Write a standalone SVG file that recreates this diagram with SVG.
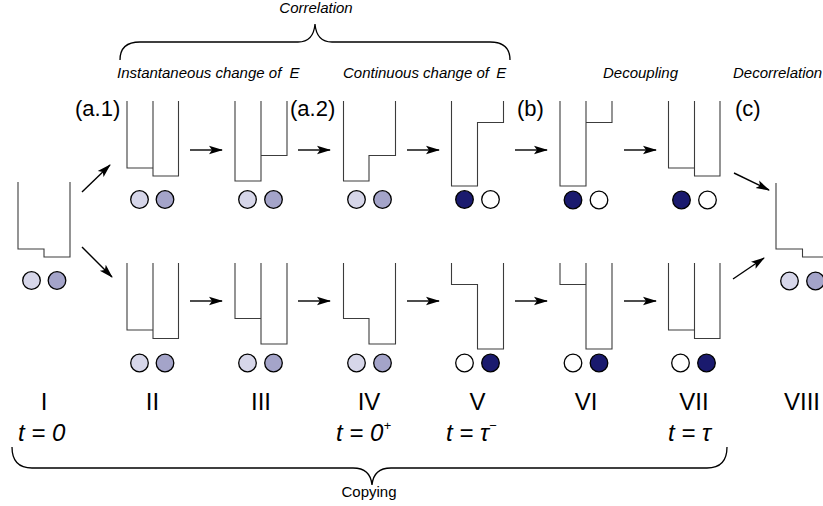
<svg xmlns="http://www.w3.org/2000/svg" width="823" height="506" viewBox="0 0 823 506">
  <style>
    .well { fill: none; stroke: #3c3c3c; stroke-width: 1.1; }
    .brace { fill: none; stroke: #000; stroke-width: 1.3; }
    .arrow { fill: none; stroke: #000; stroke-width: 1.4; marker-end: url(#head); }
    .dot { stroke: #000; stroke-width: 1.3; }
    .c1 { fill: #d6d6e9; }
    .c2 { fill: #a4a4c9; }
    .cd { fill: #1a1a6e; }
    .cw { fill: #ffffff; }
    .phase { font-family: "Liberation Sans", Arial, sans-serif; font-style: italic; font-size: 15px; fill: #000; }
    .tag { font-family: "Liberation Sans", Arial, sans-serif; font-size: 22px; fill: #000; }
    .num { font-family: "Liberation Sans", Arial, sans-serif; font-size: 24px; fill: #000; text-anchor: middle; }
    .time { font-family: "Liberation Sans", Arial, sans-serif; font-style: italic; font-size: 24px; fill: #000; }
    .sup { font-size: 13px; }
    .copy { font-family: "Liberation Sans", Arial, sans-serif; font-size: 15px; fill: #000; text-anchor: middle; }
  </style>
  <defs>
    <marker id="head" viewBox="0 0 14 10" refX="13" refY="5" markerUnits="userSpaceOnUse" markerWidth="14" markerHeight="10" orient="auto">
      <path d="M0,0.8 L14,5 L0,9.2 L3,5 Z" fill="#000"/>
    </marker>
  </defs>

  <rect width="823" height="506" fill="#fff"/>

  <!-- braces and phase labels -->
  <g id="correlation-brace">
    <path class="brace" d="M120,60 C120,49 126,42 140,42 L298,42 C309,42 314,36 315,24 C316,36 321,42 332,42 L490,42 C504,42 510,49 510,60"/>
    <text class="phase" x="316" y="13" text-anchor="middle">Correlation</text>
  </g>
  <g id="phase-labels">
    <text class="phase" x="117" y="78">Instantaneous change of <tspan dx="4">E</tspan></text>
    <text class="phase" x="343" y="78">Continuous change of <tspan dx="3">E</tspan></text>
    <text class="phase" x="603" y="78">Decoupling</text>
    <text class="phase" x="733" y="78">Decorrelation</text>
  </g>
  <g id="step-tags">
    <text class="tag" x="75" y="116">(a.1)</text>
    <text class="tag" x="290" y="116">(a.2)</text>
    <text class="tag" x="517" y="116">(b)</text>
    <text class="tag" x="735" y="116">(c)</text>
  </g>

  <!-- state I -->
  <g id="state-I">
    <path class="well" d="M18,182 V249 H44 V257 H70 V182"/>
    <circle class="dot c1" cx="31.5" cy="280.5" r="8.8"/>
    <circle class="dot c2" cx="57" cy="280.5" r="8.8"/>
  </g>

  <!-- state II -->
  <g id="state-II-top">
    <path class="well" d="M127,101 V168 H153 M153,101 V176 H178.5 V101"/>
    <circle class="dot c1" cx="139.5" cy="199.5" r="8.8"/>
    <circle class="dot c2" cx="165" cy="199.5" r="8.8"/>
  </g>
  <g id="state-II-bottom">
    <path class="well" d="M127,263 V330 H153 M153,263 V338.5 H178.5 V263"/>
    <circle class="dot c1" cx="139.5" cy="363" r="8.8"/>
    <circle class="dot c2" cx="165" cy="363" r="8.8"/>
  </g>

  <!-- state III -->
  <g id="state-III-top">
    <path class="well" d="M235,101 V181 H261 V101 M261,155.5 H287 V101"/>
    <circle class="dot c1" cx="247.5" cy="199.5" r="8.8"/>
    <circle class="dot c2" cx="273.5" cy="199.5" r="8.8"/>
  </g>
  <g id="state-III-bottom">
    <path class="well" d="M235,263 V318.5 H261 M261,263 V344 H287 V263"/>
    <circle class="dot c1" cx="247.5" cy="363" r="8.8"/>
    <circle class="dot c2" cx="273.5" cy="363" r="8.8"/>
  </g>

  <!-- state IV -->
  <g id="state-IV-top">
    <path class="well" d="M343.5,101 V181 H369 V155.5 H395.5 V101"/>
    <circle class="dot c1" cx="356.5" cy="199.5" r="8.8"/>
    <circle class="dot c2" cx="382.5" cy="199.5" r="8.8"/>
  </g>
  <g id="state-IV-bottom">
    <path class="well" d="M343.5,263 V318.5 H369 V344 H395.5 V263"/>
    <circle class="dot c1" cx="356.5" cy="363" r="8.8"/>
    <circle class="dot c2" cx="382.5" cy="363" r="8.8"/>
  </g>

  <!-- state V -->
  <g id="state-V-top">
    <path class="well" d="M451.5,101 V186 H477.5 V122.5 H503.5 V101"/>
    <circle class="dot cd" cx="464.5" cy="199.5" r="8.8"/>
    <circle class="dot cw" cx="490.5" cy="199.5" r="8.8"/>
  </g>
  <g id="state-V-bottom">
    <path class="well" d="M451.5,263 V284.5 H477.5 V349 H503.5 V263"/>
    <circle class="dot cw" cx="464.5" cy="363" r="8.8"/>
    <circle class="dot cd" cx="490.5" cy="363" r="8.8"/>
  </g>

  <!-- state VI -->
  <g id="state-VI-top">
    <path class="well" d="M560,101 V186 H586 V101 M586,122.5 H612 V101"/>
    <circle class="dot cd" cx="573" cy="200" r="8.8"/>
    <circle class="dot cw" cx="599" cy="200" r="8.8"/>
  </g>
  <g id="state-VI-bottom">
    <path class="well" d="M560,263 V284.5 H586 M586,263 V349 H612 V263"/>
    <circle class="dot cw" cx="573" cy="363" r="8.8"/>
    <circle class="dot cd" cx="599" cy="363" r="8.8"/>
  </g>

  <!-- state VII -->
  <g id="state-VII-top">
    <path class="well" d="M668.5,101 V168 H694.5 M694.5,101 V176 H720 V101"/>
    <circle class="dot cd" cx="681.5" cy="200" r="8.8"/>
    <circle class="dot cw" cx="707.5" cy="200" r="8.8"/>
  </g>
  <g id="state-VII-bottom">
    <path class="well" d="M668.5,263 V330 H694.5 M694.5,263 V338.5 H720 V263"/>
    <circle class="dot cw" cx="680.5" cy="363" r="8.8"/>
    <circle class="dot cd" cx="706.5" cy="363" r="8.8"/>
  </g>

  <!-- state VIII -->
  <g id="state-VIII">
    <path class="well" d="M776,183 V249 H802.5 V257 H828"/>
    <circle class="dot c1" cx="789.5" cy="281" r="8.8"/>
    <circle class="dot c2" cx="815.5" cy="281" r="8.8"/>
  </g>

  <!-- transitions -->
  <g id="connectors">
    <line class="arrow" x1="82" y1="192" x2="110" y2="165"/>
    <line class="arrow" x1="82" y1="247" x2="112" y2="277"/>
    <line class="arrow" x1="190" y1="150" x2="222" y2="150"/>
    <line class="arrow" x1="298" y1="150" x2="330" y2="150"/>
    <line class="arrow" x1="407" y1="150" x2="439" y2="150"/>
    <line class="arrow" x1="515" y1="150" x2="547" y2="150"/>
    <line class="arrow" x1="624" y1="150" x2="656" y2="150"/>
    <line class="arrow" x1="190" y1="301" x2="222" y2="301"/>
    <line class="arrow" x1="298" y1="301" x2="330" y2="301"/>
    <line class="arrow" x1="407" y1="301" x2="439" y2="301"/>
    <line class="arrow" x1="515" y1="301" x2="547" y2="301"/>
    <line class="arrow" x1="624" y1="301" x2="656" y2="301"/>
    <line class="arrow" x1="734" y1="173" x2="769" y2="190"/>
    <line class="arrow" x1="733" y1="279" x2="764" y2="258"/>
  </g>

  <!-- state numbers and times -->
  <g id="state-numbers">
    <text class="num" x="44" y="410">I</text>
    <text class="num" x="152.5" y="410">II</text>
    <text class="num" x="261" y="410">III</text>
    <text class="num" x="369" y="410">IV</text>
    <text class="num" x="477.5" y="410">V</text>
    <text class="num" x="586" y="410">VI</text>
    <text class="num" x="694" y="410">VII</text>
    <text class="num" x="802" y="410">VIII</text>
  </g>
  <g id="times">
    <text class="time" x="18" y="441">t = 0</text>
    <text class="time" x="336" y="441">t = 0<tspan class="sup" dy="-11">+</tspan></text>
    <text class="time" x="446" y="441">t = τ<tspan class="sup" dy="-11">−</tspan></text>
    <text class="time" x="668" y="441">t = τ</text>
  </g>

  <g id="copying-brace">
    <path class="brace" d="M12,447 C12,460 18,468 32,468 L353,468 C365,468 371,474 372,485 C373,474 379,468 391,468 L707,468 C721,468 727,460 727,447"/>
    <text class="copy" x="369" y="497">Copying</text>
  </g>
</svg>
